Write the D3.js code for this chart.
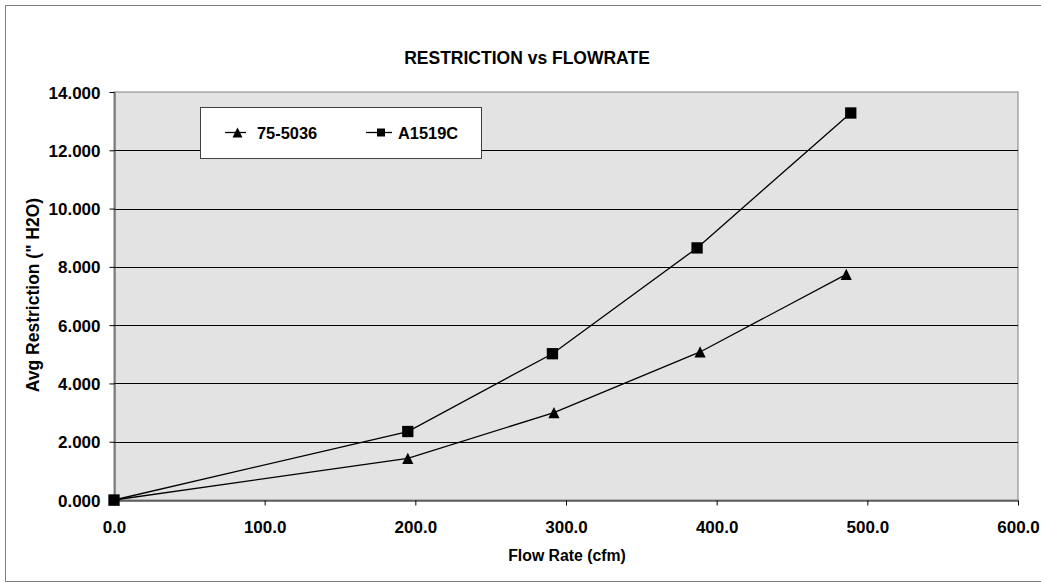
<!DOCTYPE html>
<html lang="en">
<head>
<meta charset="utf-8">
<title>Restriction vs Flowrate</title>
<style>
  body { margin: 0; background: #fff; overflow: hidden; }
  svg { display: block; font-family: "Liberation Sans", Arial, sans-serif; font-weight: bold; }
</style>
</head>
<body>
<script src="https://cdn.jsdelivr.net/npm/d3@7"></script>
<script>
// data
const flowA = [0, 195, 292, 389, 486];          // 75-5036
const restA = [0, 1.43, 3.0, 5.08, 7.74];
const flowB = [0, 195, 291, 387, 489];          // A1519C
const restB = [0, 2.35, 5.02, 8.65, 13.28];
const seriesNames = ["75-5036", "A1519C"];
const xTicks = [0, 100, 200, 300, 400, 500, 600];
const yTicks = [0, 2, 4, 6, 8, 10, 12, 14];

const width = 1041, height = 583;
const plot = {left: 114, right: 1018, top: 92, bottom: 500};
const font = "Liberation Sans, Arial, sans-serif";

const svg = d3.select("body").append("svg")
    .attr("width", width)
    .attr("height", height);

// outer chart border (right edge runs off the picture)
svg.append("rect")
    .attr("x", 5.5).attr("y", 5.5)
    .attr("width", 1050).attr("height", 576)
    .attr("fill", "#fff")
    .attr("stroke", "#808080");

const x = d3.scaleLinear().domain([0, 600]).range([plot.left, plot.right]);
const y = d3.scaleLinear().domain([0, 14]).range([plot.bottom, plot.top]);

// plot background
svg.append("rect")
    .attr("x", plot.left).attr("y", plot.top)
    .attr("width", plot.right - plot.left).attr("height", plot.bottom - plot.top)
    .attr("fill", "#e3e3e3")
    .attr("stroke", "#808080");

// gridlines
svg.append("g")
    .selectAll("line")
    .data(yTicks.filter(d => d > 0 && d < 14))
    .join("line")
    .attr("x1", plot.left).attr("x2", plot.right)
    .attr("y1", d => Math.round(y(d)) + 0.5).attr("y2", d => Math.round(y(d)) + 0.5)
    .attr("stroke", "#000");

// axes
const yAxis = d3.axisLeft(y).tickValues(yTicks).tickSize(5).tickSizeOuter(0)
    .tickFormat(d3.format(".3f"));
svg.append("g")
    .attr("transform", `translate(${plot.left + 0.5},0)`)
    .call(yAxis)
    .call(g => g.select(".domain").attr("stroke", "#404040"))
    .call(g => g.selectAll(".tick line").attr("stroke", "#000"))
    .call(g => g.selectAll(".tick text").attr("x", -14).attr("dy", "0.36em").attr("font-size", 17)
        .attr("font-family", font).attr("font-weight", "bold"));

const xAxis = d3.axisBottom(x).tickValues(xTicks).tickSize(5).tickSizeOuter(0)
    .tickFormat(d3.format(".1f"));
svg.append("g")
    .attr("transform", `translate(0,${plot.bottom + 0.5})`)
    .call(xAxis)
    .call(g => g.select(".domain").attr("stroke", "#000"))
    .call(g => g.selectAll(".tick text").attr("y", 32).attr("dy", null).attr("font-size", 17)
        .attr("font-family", font).attr("font-weight", "bold"))
    .call(g => g.selectAll(".tick line").attr("stroke", "#000"));

// titles
svg.append("text")
    .attr("x", 527).attr("y", 63.5)
    .attr("text-anchor", "middle")
    .attr("font-size", 17.5)
    .text("RESTRICTION vs FLOWRATE");

svg.append("text")
    .attr("x", 567).attr("y", 561)
    .attr("text-anchor", "middle")
    .attr("font-size", 15.8)
    .text("Flow Rate (cfm)");

svg.append("text")
    .attr("transform", `translate(38.5,${(plot.top + plot.bottom) / 2 - 1}) rotate(-90)`)
    .attr("text-anchor", "middle")
    .attr("font-size", 17.5)
    .text("Avg Restriction (\" H2O)");

// markers: square and a slightly tall triangle centred on its box
const triType = {
  draw(ctx, size) {
    const h = Math.sqrt(size);
    ctx.moveTo(0, -h / 2);
    ctx.lineTo(h / 2, h / 2);
    ctx.lineTo(-h / 2, h / 2);
    ctx.closePath();
  }
};
const triangle = d3.symbol().type(triType).size(125);
const square = d3.symbol().type(d3.symbolSquare).size(128);

// series
const line = d3.line().x(d => x(d[0])).y(d => y(d[1]));
const dataA = flowA.map((f, i) => [f, restA[i]]);
const dataB = flowB.map((f, i) => [f, restB[i]]);

[[dataA, triangle], [dataB, square]].forEach(([data, sym]) => {
  svg.append("path")
      .datum(data)
      .attr("fill", "none")
      .attr("stroke", "#000")
      .attr("stroke-width", 1.3)
      .attr("d", line);
  svg.append("g")
      .selectAll("path")
      .data(data)
      .join("path")
      .attr("transform", d => `translate(${x(d[0])},${y(d[1])})`)
      .attr("d", sym)
      .attr("fill", "#000");
});

// legend
const legend = svg.append("g");
legend.append("rect")
    .attr("x", 200.5).attr("y", 107.5)
    .attr("width", 281).attr("height", 51)
    .attr("fill", "#fff")
    .attr("stroke", "#404040");

const legendItems = [
  {name: seriesNames[0], sym: d3.symbol().type(triType).size(100), x0: 225, x1: 246, tx: 257},
  {name: seriesNames[1], sym: d3.symbol().type(d3.symbolSquare).size(64), x0: 366, x1: 392, tx: 398}
];
legendItems.forEach(it => {
  legend.append("line")
      .attr("x1", it.x0).attr("x2", it.x1)
      .attr("y1", 132.5).attr("y2", 132.5)
      .attr("stroke", "#000").attr("stroke-width", 1.3);
  legend.append("path")
      .attr("transform", `translate(${(it.x0 + it.x1) / 2 + 2},132.5)`)
      .attr("d", it.sym)
      .attr("fill", "#000");
  legend.append("text")
      .attr("x", it.tx).attr("y", 138.5)
      .attr("font-size", 16.4)
      .text(it.name);
});
</script>
</body>
</html>
